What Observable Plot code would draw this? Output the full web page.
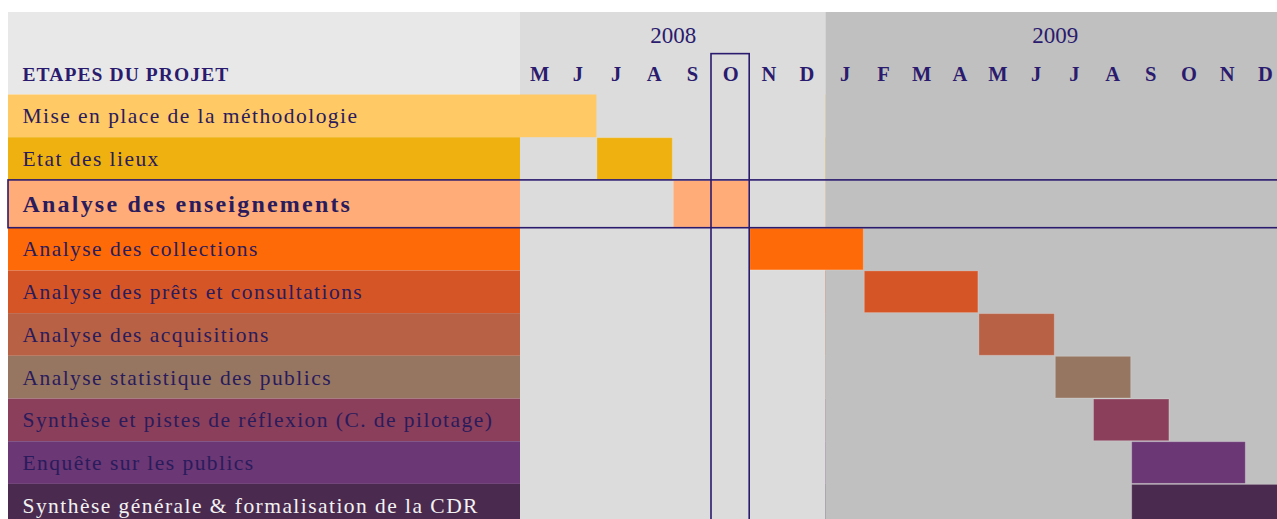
<!DOCTYPE html>
<html><head><meta charset="utf-8">
<script src="https://cdn.jsdelivr.net/npm/d3@7"></script>
<script src="https://cdn.jsdelivr.net/npm/@observablehq/plot@0.6"></script>
<style>
body{margin:0;background:#fff;overflow:hidden}
#chart svg{display:block}
</style>
</head><body><div id="chart"></div>
<script>
// ---- Data ----
const tasks = [
  "Mise en place de la méthodologie",
  "Etat des lieux",
  "Analyse des enseignements",
  "Analyse des collections",
  "Analyse des prêts et consultations",
  "Analyse des acquisitions",
  "Analyse statistique des publics",
  "Synthèse et pistes de réflexion (C. de pilotage)",
  "Enquête sur les publics",
  "Synthèse générale & formalisation de la CDR"
];
// month index counted from May 2008 (0 = mai 2008)
const taskStart = [0, 2, 4, 6, 9, 12, 14, 15, 16, 16];
const taskEnd   = [2, 4, 6, 9, 12, 14, 16, 17, 19, 20];
const taskColors = ["#ffc965", "#eeb10f", "#ffac78", "#ff6a08", "#d65527", "#b86145", "#977661", "#8b3f5b", "#6b3774", "#4b2a4f"];
const taskTextColors = ["#2a1b5c","#2a1b5c","#2a1b5c","#2a1b5c","#2a1b5c","#2a1b5c","#2a1b5c","#2a1b5c","#2a1b5c","#f2f2f2"];
const highlighted = "Analyse des enseignements";
const monthLabels = ["M","J","J","A","S","O","N","D","J","F","M","A","M","J","J","A","S","O","N","D"];
const years = ["2008", "2009"];
const yearStart = [0, 8];
const yearEnd = [8, 20];
const yearColors = ["#dcdcdc", "#c0c0c0"];
const currentMonth = 5; // octobre 2008
const headerTitle = "ETAPES DU PROJET";

// ---- Layout (row units) ----
const ROW_PX = 42.7;
const HEADER_U = 82.5 / ROW_PX;
const HL_U = 47.8 / ROW_PX;
let acc = HEADER_U;
const rows = tasks.map((t, i) => {
  const h = t === highlighted ? HL_U : 1;
  const r = {task: t, i, y1: acc, y2: acc + h, start: taskStart[i], end: taskEnd[i], color: taskColors[i], tcolor: taskTextColors[i], hl: t === highlighted};
  acc += h;
  return r;
});
const total = acc;
const yearRow = 0.54, monthRow = 1.46, boxTop = 0.975;
const navy = "#2a1b6e";
const months = monthLabels.map((m, i) => ({m, i}));
const yearsData = years.map((y, i) => ({year: y, x1: yearStart[i], x2: yearEnd[i], color: yearColors[i]}));

const chart = Plot.plot({
  width: 1277,
  height: 519,
  marginLeft: 8, marginRight: -6, marginTop: 12, marginBottom: 0,
  x: {type: "linear", domain: [0, 20], range: [520, 1284], axis: null},
  y: {type: "linear", domain: [0, total], range: [12, 12 + total * ROW_PX], axis: null},
  style: {fontFamily: "'Liberation Serif', 'DejaVu Serif', serif", background: "white"},
  marks: [
    Plot.rect([0], {y1: 0, y2: HEADER_U, fill: "#e8e8e8"}),
    Plot.rect(rows, {y1: "y1", y2: "y2", fill: "color"}),
    Plot.rect(yearsData, {x1: "x1", x2: "x2", y1: 0, y2: total, fill: "color"}),
    Plot.rect(rows.filter(r => r.start === 0), {x1: "start", x2: "end", y1: "y1", y2: "y2", fill: "color"}),
    Plot.rect(rows.filter(r => r.start > 0), {x1: "start", x2: "end", y1: "y1", y2: "y2", fill: "color", stroke: "white", strokeOpacity: 0.22, strokeWidth: 1, inset: 0.5}),
    Plot.rect([currentMonth], {x1: d => d, x2: d => d + 1, y1: boxTop, y2: total + 1, fill: "none", stroke: navy, strokeWidth: 1.6}),
    Plot.rect(rows.filter(r => r.hl), {y1: "y1", y2: "y2", fill: "none", stroke: navy, strokeWidth: 1.6}),
    Plot.text(yearsData, {x: d => (d.x1 + d.x2) / 2, y: yearRow, text: "year", fill: navy, fontSize: 23}),
    Plot.text(months, {x: d => d.i + 0.5, y: monthRow, text: "m", fill: navy, fontSize: 20.5, fontWeight: "bold"}),
    Plot.text([headerTitle], {frameAnchor: "left", dx: 14, y: monthRow, text: d => d, fill: navy, fontSize: 19.5, fontWeight: "bold", textAnchor: "start"}),
    Plot.text(rows.filter(r => !r.hl), {frameAnchor: "left", dx: 14, y: d => (d.y1 + d.y2) / 2, text: "task", fill: "tcolor", textAnchor: "start", fontSize: 21.5}),
    Plot.text(rows.filter(r => r.hl), {frameAnchor: "left", dx: 14, y: d => (d.y1 + d.y2) / 2, text: "task", fill: "tcolor", textAnchor: "start", fontSize: 24, fontWeight: "bold"})
  ]
});
// letter spacing (not a Plot text option): widen labels like the original
d3.select(chart).selectAll("text").each(function() {
  const t = this.textContent;
  if (t === headerTitle) this.style.letterSpacing = "1.1px";
  else if (t === highlighted) this.style.letterSpacing = "2.2px";
  else if (tasks.includes(t)) this.style.letterSpacing = "1.45px";
});
document.getElementById("chart").append(chart);
</script>
</body></html>
